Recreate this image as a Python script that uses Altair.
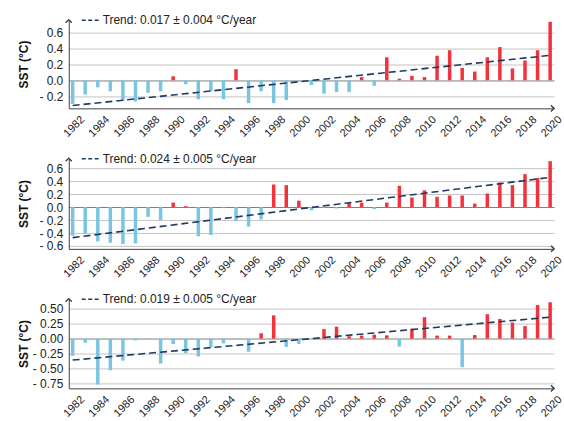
import altair as alt
import pandas as pd

FONT = "Liberation Sans"
RED = "#f2323c"
BLUE = "#7ac5e2"
NAVY = "#1f3a60"

years = list(range(1982, 2021))
label_years = list(range(1982, 2021, 2))

sst_1 = [-0.30, -0.18, -0.09, -0.14, -0.26, -0.27, -0.16, -0.14, 0.05, -0.05,
         -0.24, -0.14, -0.24, 0.14, -0.29, -0.14, -0.29, -0.25, -0.01, -0.06,
         -0.17, -0.15, -0.15, 0.04, -0.07, 0.29, 0.02, 0.055, 0.04, 0.31,
         0.38, 0.155, 0.11, 0.29, 0.42, 0.15, 0.25, 0.38, 0.74]
sst_2 = [-0.44, -0.41, -0.53, -0.55, -0.57, -0.56, -0.15, -0.20, 0.07, 0.015,
         -0.45, -0.43, -0.01, -0.21, -0.30, -0.19, 0.35, 0.34, 0.10, -0.05,
         -0.01, -0.02, 0.065, 0.07, -0.03, 0.07, 0.33, 0.15, 0.26, 0.16,
         0.18, 0.18, 0.055, 0.21, 0.38, 0.34, 0.51, 0.45, 0.71]
sst_3 = [-0.29, -0.07, -0.77, -0.53, -0.37, -0.03, -0.005, -0.42, -0.09, -0.245,
         -0.30, -0.14, -0.08, -0.01, -0.22, 0.09, 0.39, -0.14, -0.09, 0.0,
         0.16, 0.20, 0.04, 0.05, 0.065, 0.055, -0.135, 0.165, 0.36, 0.05,
         0.05, -0.48, 0.06, 0.41, 0.33, 0.27, 0.21, 0.565, 0.61]

trend_labels = ["Trend: 0.017 \u00b1 0.004 \u00b0C/year",
                "Trend: 0.024 \u00b1 0.005 \u00b0C/year",
                "Trend: 0.019 \u00b1 0.005 \u00b0C/year"]
trend_ends = [(-0.32, 0.315), (-0.47, 0.46), (-0.36, 0.36)]

y_domains = [(-0.356, 0.767), (-0.644, 0.756), (-0.835, 0.67)]
y_ticks = [[-0.2, 0.0, 0.2, 0.4, 0.6],
           [-0.6, -0.4, -0.2, 0.0, 0.2, 0.4, 0.6],
           [-0.75, -0.5, -0.25, 0.0, 0.25, 0.5]]
y_formats = [".1f", ".1f", ".2f"]
heights = [89, 91, 90]
WIDTH = 487


def panel(values, trend, label, domain, ticks, fmt, height):
    df = pd.DataFrame({"year": years, "sst": values})
    tr = pd.DataFrame({"year": [years[0], years[-1]],
                       "sst": list(trend),
                       "label": [label, label]})
    x = alt.X("year:O",
              scale=alt.Scale(paddingInner=0.7, paddingOuter=0.16),
              axis=alt.Axis(values=label_years, labelAngle=-45, ticks=False,
                            labelPadding=5, labelOffset=6, labelFontSize=11,
                            labelColor="#222222", domainColor="#404040",
                            labelOverlap=False, grid=False),
              title=None)
    label_expr = ("datum.value < 0 ? '- ' + format(-datum.value, '%s') : "
                  "format(datum.value, '%s')") % (fmt, fmt)
    y = alt.Y("sst:Q",
              scale=alt.Scale(domain=list(domain), nice=False, zero=False),
              axis=alt.Axis(values=ticks, tickCount=20, labelExpr=label_expr,
                            ticks=False, labelPadding=6, labelFontSize=12,
                            labelOverlap=False,
                            labelColor="#222222", domainColor="#404040",
                            minExtent=32, maxExtent=32, titlePadding=6,
                            title="SST (\u00b0C)", titleFontSize=12,
                            titleFontWeight="bold", titleColor="#111111",
                            grid=True,
                            gridColor={"condition": {"test": "datum.value === 0",
                                                     "value": "#7f7f7f"},
                                       "value": "#c4c4c4"},
                            gridWidth=1))
    bars = alt.Chart(df).mark_bar(width=3.5).encode(
        x=x, y=y,
        color=alt.condition("datum.sst > 0", alt.value(RED), alt.value(BLUE)),
    )
    line = alt.Chart(tr).mark_line(strokeDash=[7, 4], strokeWidth=1.6).encode(
        x="year:O", y="sst:Q",
        color=alt.Color("label:N", scale=alt.Scale(range=[NAVY]),
                        legend=alt.Legend(orient="none", legendX=12, legendY=-9,
                                          title=None, symbolType="stroke",
                                          symbolSize=289, symbolDash=[4, 2.5],
                                          symbolStrokeWidth=1.5,
                                          labelFontSize=12, labelFont=FONT,
                                          labelColor="#222222", labelOffset=3,
                                          padding=0)),
    )
    up_arrow = alt.Chart(tr).mark_point(
        shape="M-1,1L0,0L1,1", size=36, filled=False, strokeWidth=1.1,
        color="#404040", opacity=1
    ).encode(x=alt.value(0), y=alt.value(0))
    right_arrow = alt.Chart(tr).mark_point(
        shape="M-1,-1L0,0L-1,1", size=36, filled=False, strokeWidth=1.1,
        color="#404040", opacity=1
    ).encode(x=alt.value(WIDTH), y=alt.value(height))
    return alt.layer(bars, line, up_arrow, right_arrow).properties(
        width=WIDTH, height=height)


panels = [panel(v, t, l, d, tk, f, h) for v, t, l, d, tk, f, h in
          zip([sst_1, sst_2, sst_3], trend_ends, trend_labels, y_domains,
              y_ticks, y_formats, heights)]

chart = alt.vconcat(*panels, spacing=10).resolve_scale(
    x="independent", y="independent", color="independent"
).resolve_legend(color="independent").configure(
    padding={"left": 18, "top": 10, "right": 0, "bottom": 0},
    font=FONT,
).configure_view(stroke=None).configure_axis(
    labelFont=FONT, titleFont=FONT
).configure_legend(labelFont=FONT)

chart.save("out.html", embed_options={"renderer": "svg", "actions": False})
